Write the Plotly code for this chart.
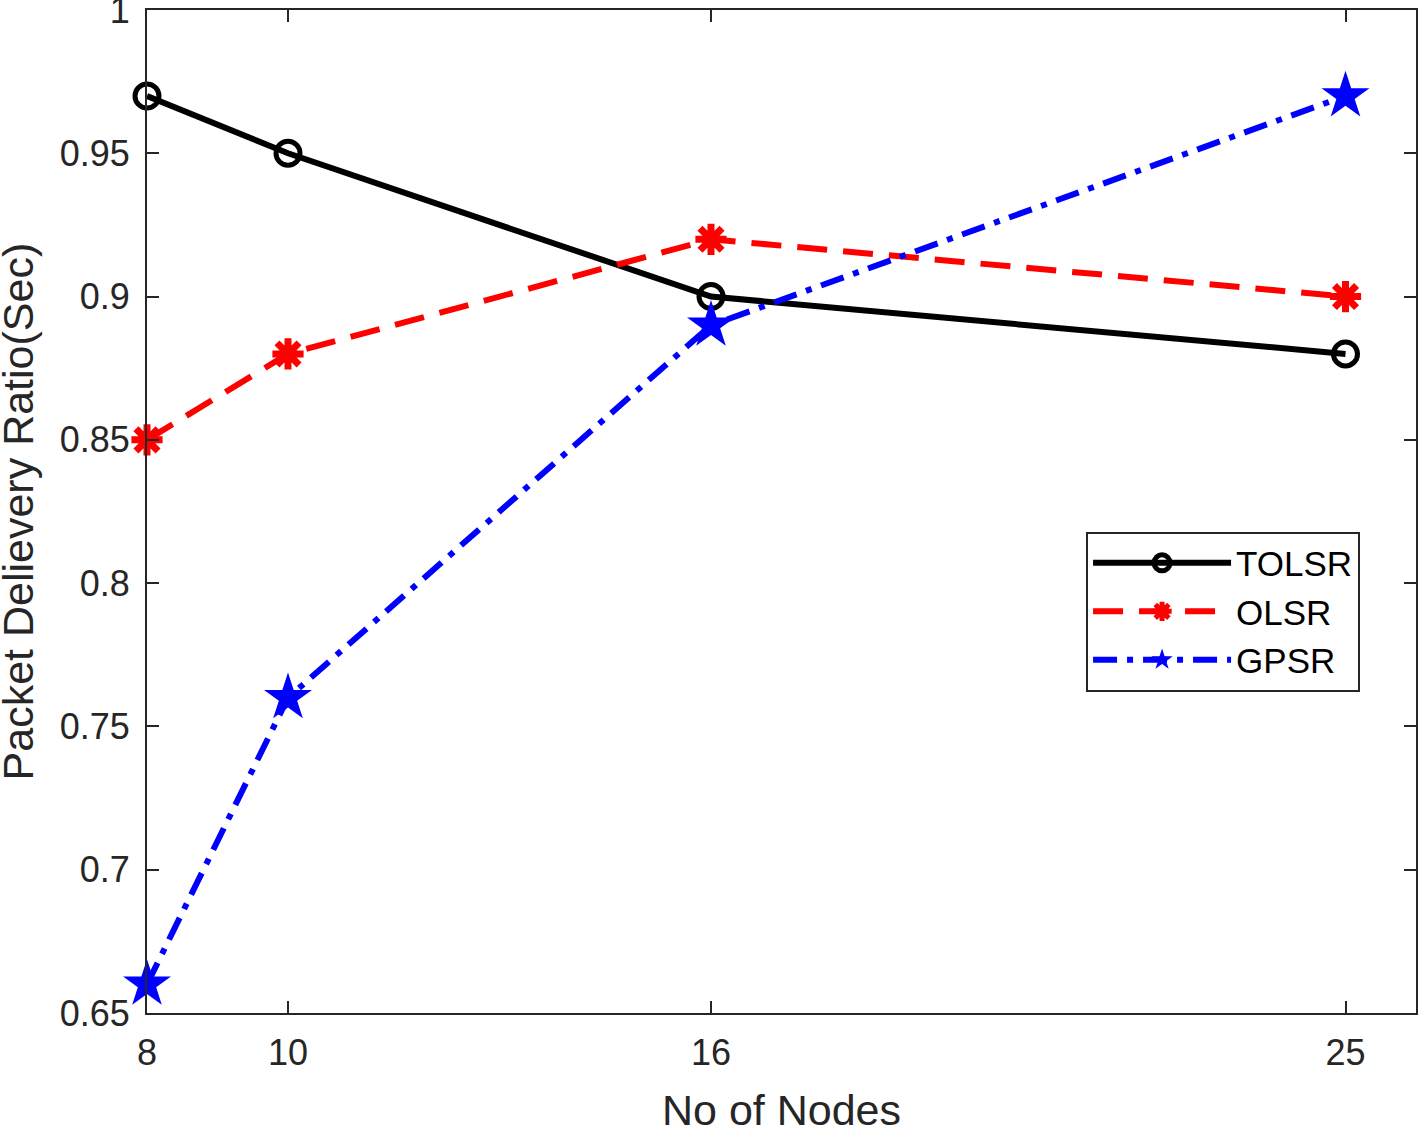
import plotly.graph_objects as go

nodes = [8, 10, 16, 25]
tolsr = [0.97, 0.95, 0.90, 0.88]
olsr = [0.85, 0.88, 0.92, 0.90]
gpsr = [0.66, 0.76, 0.89, 0.97]
y_ticks = [0.65, 0.7, 0.75, 0.8, 0.85, 0.9, 0.95, 1]
y_ticklabels = ["0.65", "0.7", "0.75", "0.8", "0.85", "0.9", "0.95", "1"]
x_title = "No of Nodes"
y_title = "Packet Delievery Ratio(Sec)"

fig = go.Figure()
fig.add_trace(go.Scatter(
    x=nodes, y=tolsr, name="TOLSR", mode="lines+markers",
    line=dict(color="black", width=6),
    marker=dict(symbol="circle-open", size=24, color="black", line=dict(width=5, color="black")),
    cliponaxis=False))
fig.add_trace(go.Scatter(
    x=nodes, y=olsr, name="OLSR", mode="lines+markers",
    line=dict(color="red", width=6, dash="30px,16px"),
    marker=dict(symbol="asterisk-open", size=26, color="red", line=dict(width=7, color="red")),
    cliponaxis=False))
fig.add_trace(go.Scatter(
    x=nodes, y=gpsr, name="GPSR", mode="lines+markers",
    line=dict(color="blue", width=6, dash="24px,10px,6px,10px"),
    marker=dict(symbol="star", size=36, color="blue", line=dict(width=0)),
    cliponaxis=False))

axis_common = dict(
    showline=True, linecolor="#262626", linewidth=2, mirror="ticks",
    ticks="inside", ticklen=12, tickwidth=2, tickcolor="#262626",
    showgrid=False, zeroline=False, automargin=False,
    ticklabeloverflow="allow",
    tickfont=dict(family="Liberation Sans, Arial", size=36, color="#262626"),
)

fig.update_layout(
    width=1418, height=1128,
    margin=dict(l=147, r=2, t=10, b=115),
    paper_bgcolor="white", plot_bgcolor="white",
    font=dict(family="Liberation Sans, Arial", color="#262626"),
    xaxis=dict(range=[8, 26], tickvals=nodes, ticktext=[str(n) for n in nodes],
               ticklabelstandoff=7, **axis_common),
    yaxis=dict(range=[0.65, 1.00001], tickvals=y_ticks, ticktext=y_ticklabels,
               ticklabelstandoff=8, **axis_common),
    showlegend=True,
    legend=dict(x=0.74, y=0.48, xanchor="left", yanchor="top",
                bgcolor="white", bordercolor="#262626", borderwidth=2,
                font=dict(size=35, color="black"), itemwidth=138,
                entrywidth=155, tracegroupgap=0),
    annotations=[
        dict(text=x_title, xref="paper", yref="paper", x=0.5, y=-0.0967,
             xanchor="center", yanchor="middle", showarrow=False,
             font=dict(size=43, color="#262626")),
        dict(text=y_title, xref="paper", yref="paper", x=-0.1017, y=0.5,
             xanchor="center", yanchor="middle", showarrow=False, textangle=-90,
             font=dict(size=43, color="#262626")),
    ],
)

fig.write_html("out.html", config={"displayModeBar": False},
               post_script="document.body.style.margin='0';document.body.style.padding='0';")
